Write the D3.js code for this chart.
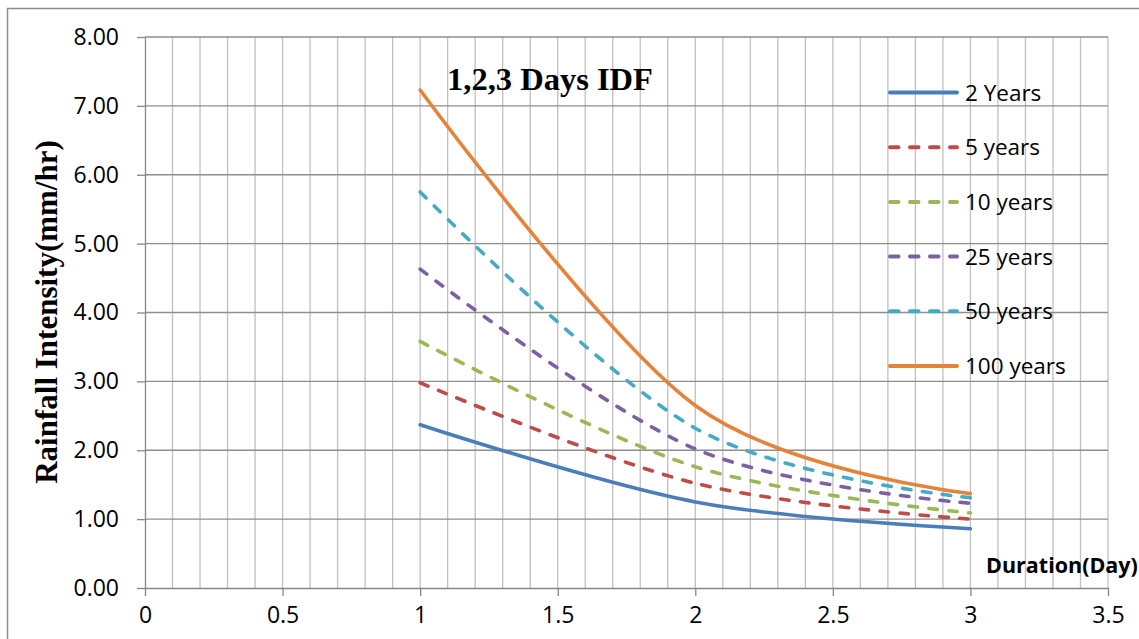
<!DOCTYPE html>
<html>
<head>
<meta charset="utf-8">
<script src="https://cdn.jsdelivr.net/npm/d3@7"></script>
<style>
  html, body { margin: 0; padding: 0; background: #fff; }
  svg { display: block; }
</style>
</head>
<body>
<svg id="chart" width="1139" height="639"></svg>
<script>
// Rainfall intensity (mm/hr) for 1, 2 and 3 day durations by return period
const durations = [1, 2, 3];
const seriesNames = ["2 Years", "5 years", "10 years", "25 years", "50 years", "100 years"];
const years2   = [2.37, 1.25, 0.86];
const years5   = [2.98, 1.52, 1.00];
const years10  = [3.58, 1.76, 1.09];
const years25  = [4.63, 2.02, 1.23];
const years50  = [5.75, 2.32, 1.31];
const years100 = [7.23, 2.65, 1.37];
const seriesValues = [years2, years5, years10, years25, years50, years100];
const seriesColors = ["#4a7ebb", "#be4b48", "#98b954", "#7d60a0", "#46aac5", "#e5833b"];
const seriesDashed = [false, true, true, true, true, false];

const xTicks = [0, 0.5, 1, 1.5, 2, 2.5, 3, 3.5];
const yTicks = [0, 1, 2, 3, 4, 5, 6, 7, 8];

const svg = d3.select("#chart");

const x = d3.scaleLinear().domain([0, 3.5]).range([145, 1108]);
const y = d3.scaleLinear().domain([0, 8]).range([588, 37]);

// outer chart frame
svg.append("rect")
  .attr("x", 7.5).attr("y", 8.5)
  .attr("width", 1160).attr("height", 660)
  .attr("fill", "none").attr("stroke", "#8c8c8c").attr("stroke-width", 1.5);

// minor vertical gridlines every 0.1
const vGrid = d3.range(1, 36).map(i => i / 10);
svg.append("g").selectAll("line").data(vGrid).join("line")
  .attr("x1", d => x(d)).attr("x2", d => x(d))
  .attr("y1", y(8)).attr("y2", y(0))
  .attr("stroke", "#c0c0c0").attr("stroke-width", 1.3);

// major horizontal gridlines
svg.append("g").selectAll("line").data(yTicks.slice(1)).join("line")
  .attr("x1", x(0)).attr("x2", x(3.5))
  .attr("y1", d => y(d)).attr("y2", d => y(d))
  .attr("stroke", "#8e8e8e").attr("stroke-width", 1.3);

// axes
const xAxis = d3.axisBottom(x).tickValues(xTicks).tickFormat(d => String(d))
  .tickSize(8).tickSizeOuter(0).tickPadding(11);
const gx = svg.append("g").attr("transform", `translate(0,${y(0)})`).call(xAxis);
gx.select(".domain").attr("stroke", "#868686").attr("stroke-width", 1.3);
gx.selectAll(".tick line").attr("stroke", "#868686").attr("stroke-width", 1.3);
gx.selectAll(".tick text")
  .attr("font-family", "'Open Sans', sans-serif").attr("font-size", 23)
  .attr("fill", "#000");

const yAxis = d3.axisLeft(y).tickValues(yTicks).tickFormat(d3.format(".2f"))
  .tickSize(8).tickSizeOuter(0).tickPadding(18);
const gy = svg.append("g").attr("transform", `translate(${x(0)},0)`).call(yAxis);
gy.select(".domain").attr("stroke", "#868686").attr("stroke-width", 1.3);
gy.selectAll(".tick line").attr("stroke", "#868686").attr("stroke-width", 1.3);
gy.selectAll(".tick text")
  .attr("font-family", "'Open Sans', sans-serif").attr("font-size", 23)
  .attr("fill", "#000");

// smoothed IDF curves
const line = d3.line()
  .x(d => x(d[0])).y(d => y(d[1]))
  .curve(d3.curveCardinal.tension(0));

seriesValues.forEach((vals, i) => {
  svg.append("path")
    .datum(durations.map((d, j) => [d, vals[j]]))
    .attr("d", line)
    .attr("fill", "none")
    .attr("stroke", seriesColors[i])
    .attr("stroke-width", 3.6)
    .attr("stroke-linecap", "round")
    .attr("stroke-linejoin", "round")
    .attr("stroke-dasharray", seriesDashed[i] ? "8.5 11.5" : null);
});

// legend
const legend = svg.append("g");
seriesNames.forEach((name, i) => {
  const ly = 92.5 + i * 54.7;
  legend.append("line")
    .attr("x1", 890).attr("x2", 957).attr("y1", ly).attr("y2", ly)
    .attr("stroke", seriesColors[i]).attr("stroke-width", 4)
    .attr("stroke-linecap", "round")
    .attr("stroke-dasharray", seriesDashed[i] ? "8.5 11.5" : null);
  legend.append("text")
    .attr("x", 965).attr("y", ly).attr("dy", "0.36em")
    .attr("font-family", "'Open Sans', sans-serif").attr("font-size", 22.5)
    .attr("fill", "#000")
    .text(name);
});

// chart title
svg.append("text")
  .attr("x", 550).attr("y", 90)
  .attr("text-anchor", "middle")
  .attr("font-family", "'Liberation Serif', serif").attr("font-weight", "bold")
  .attr("font-size", 32.5).attr("fill", "#000")
  .text("1,2,3 Days IDF");

// axis titles
svg.append("text")
  .attr("transform", "translate(57,312) rotate(-90)")
  .attr("text-anchor", "middle")
  .attr("font-family", "'Liberation Serif', serif").attr("font-weight", "bold")
  .attr("font-size", 31).attr("fill", "#000")
  .text("Rainfall Intensity(mm/hr)");

svg.append("text")
  .attr("x", 986).attr("y", 573)
  .attr("font-family", "'Open Sans', sans-serif").attr("font-weight", "bold")
  .attr("font-size", 21.5).attr("fill", "#000")
  .text("Duration(Day)");
</script>
</body>
</html>
